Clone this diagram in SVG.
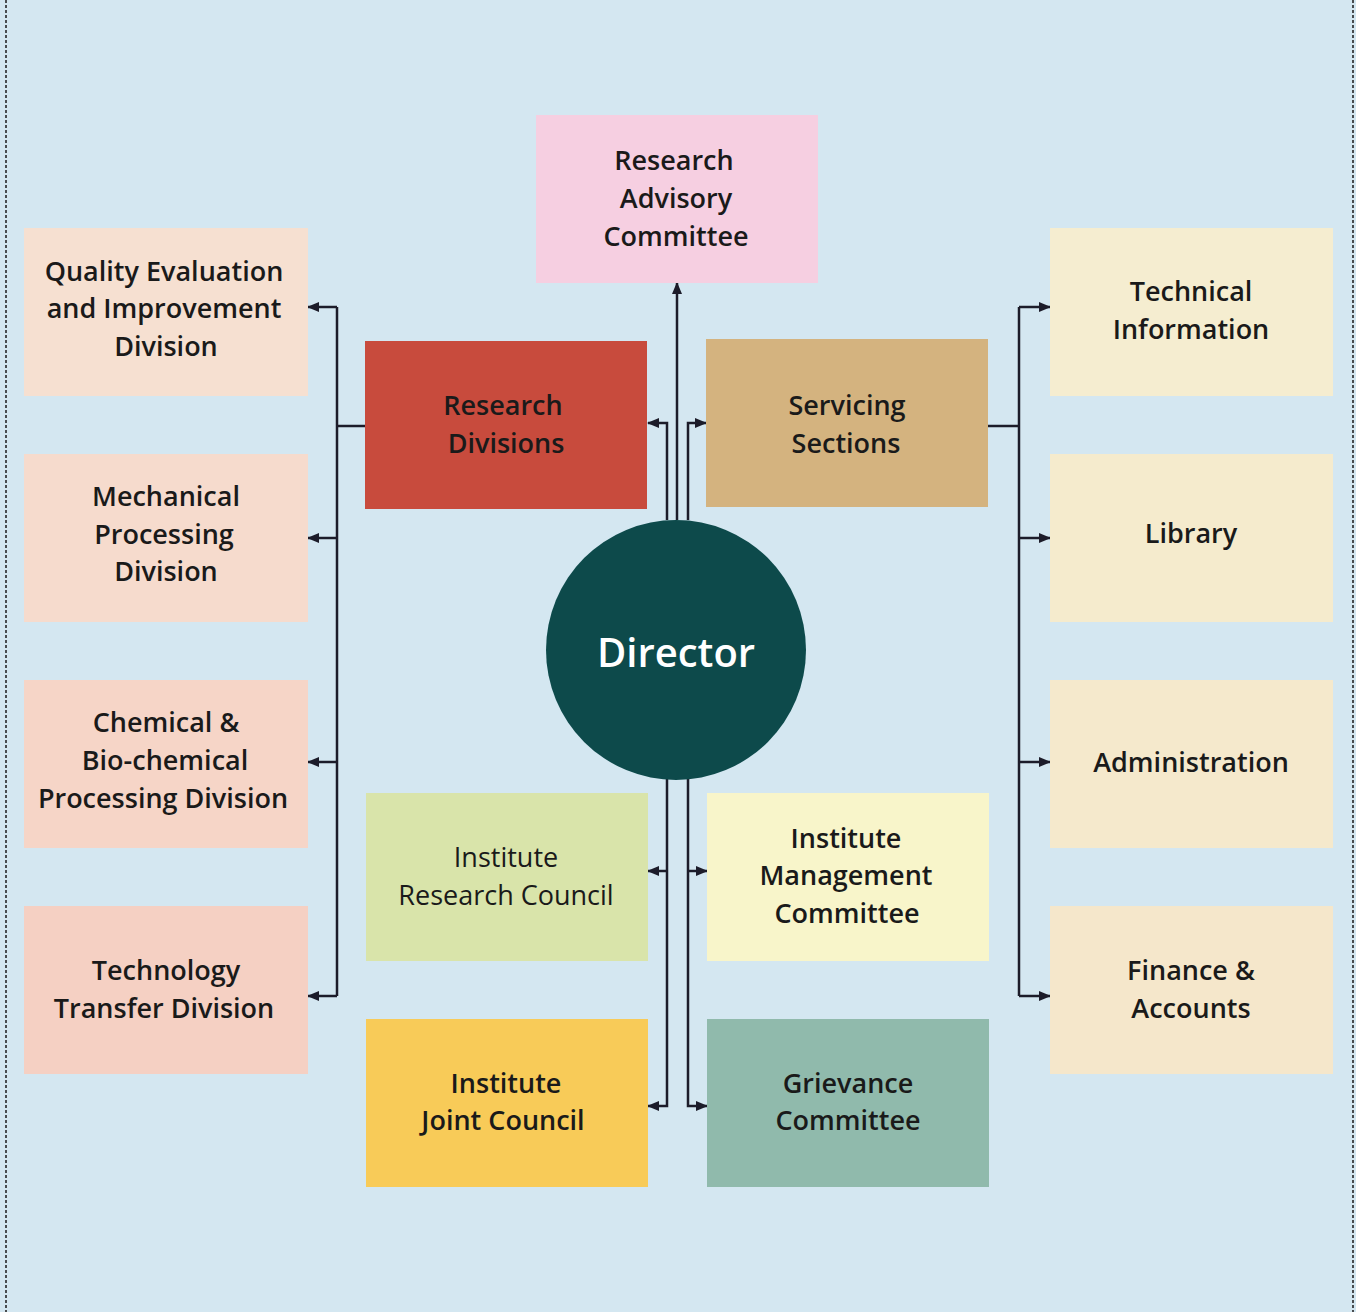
<svg xmlns="http://www.w3.org/2000/svg" width="1356" height="1312" viewBox="0 0 1356 1312">
<defs>
<marker id="ah" viewBox="0 0 12 10" refX="11" refY="5" markerWidth="12" markerHeight="10" markerUnits="userSpaceOnUse" orient="auto">
<path d="M0,0 L12,5 L0,10 z" fill="#1c1c2a"/>
</marker>
<style>
.t{font-family:"Open Sans","Liberation Sans",sans-serif;font-size:27px;font-weight:600;fill:#1a1a1a;text-anchor:middle}
.tl{font-weight:400}
.w{fill:#fff;font-size:40px}
.c{fill:none;stroke:#1c1c2a;stroke-width:2.5}
.a{marker-end:url(#ah)}
.b{stroke:#1b1b1b;stroke-width:1.5;stroke-dasharray:3 2;fill:none}
</style>
</defs>
<rect width="1356" height="1312" fill="#d4e7f1"/>
<line class="b" x1="6" y1="0" x2="6" y2="1312"/>
<line class="b" x1="1353" y1="0" x2="1353" y2="1312"/>

<g id="connectors">
<path class="c a" d="M677,520 V283"/>
<path class="c a" d="M667,520 V423 H648"/>
<path class="c a" d="M688,520 V423 H706"/>
<path class="c" d="M365,426 H337"/>
<path class="c" d="M337,307 V996"/>
<path class="c a" d="M337,307 H308"/>
<path class="c a" d="M337,538 H308"/>
<path class="c a" d="M337,762 H308"/>
<path class="c a" d="M337,996 H308"/>
<path class="c" d="M988,426 H1019"/>
<path class="c" d="M1019,307 V996"/>
<path class="c a" d="M1019,307 H1050"/>
<path class="c a" d="M1019,538 H1050"/>
<path class="c a" d="M1019,762 H1050"/>
<path class="c a" d="M1019,996 H1050"/>
<path class="c a" d="M667,778 V1106 H648"/>
<path class="c a" d="M667,871 H648"/>
<path class="c a" d="M688,778 V1106 H707"/>
<path class="c a" d="M688,871 H707"/>
</g>

<g id="rac"><rect x="536" y="115" width="282" height="168" fill="#f6cfe1"/>
<text class="t" x="674" y="170">Research</text><text class="t" x="676" y="208">Advisory</text><text class="t" x="676" y="246">Committee</text></g>

<g id="qeid"><rect x="24" y="228" width="284" height="168" fill="#f6e0d1"/>
<text class="t" x="164" y="281">Quality Evaluation</text><text class="t" x="164" y="318">and Improvement</text><text class="t" x="166" y="356">Division</text></g>
<g id="mpd"><rect x="24" y="454" width="284" height="168" fill="#f6dbcd"/>
<text class="t" x="166" y="506">Mechanical</text><text class="t" x="164" y="544">Processing</text><text class="t" x="166" y="581">Division</text></g>
<g id="cbpd"><rect x="24" y="680" width="284" height="168" fill="#f6d5c7"/>
<text class="t" x="166" y="732">Chemical &amp;</text><text class="t" x="165" y="770">Bio-chemical</text><text class="t" x="163" y="808">Processing Division</text></g>
<g id="ttd"><rect x="24" y="906" width="284" height="168" fill="#f5d0c3"/>
<text class="t" x="166" y="980">Technology</text><text class="t" x="164" y="1018">Transfer Division</text></g>

<g id="rd"><rect x="365" y="341" width="282" height="168" fill="#c84b3d"/>
<text class="t" x="503" y="415">Research</text><text class="t" x="506" y="453">Divisions</text></g>
<g id="ss"><rect x="706" y="339" width="282" height="168" fill="#d4b37f"/>
<text class="t" x="847" y="415">Servicing</text><text class="t" x="846" y="453">Sections</text></g>

<g id="ti"><rect x="1050" y="228" width="283" height="168" fill="#f5edd0"/>
<text class="t" x="1191" y="301">Technical</text><text class="t" x="1191" y="339">Information</text></g>
<g id="lib"><rect x="1050" y="454" width="283" height="168" fill="#f5ebcd"/>
<text class="t" x="1191" y="543">Library</text></g>
<g id="adm"><rect x="1050" y="680" width="283" height="168" fill="#f5e9cc"/>
<text class="t" x="1191" y="772">Administration</text></g>
<g id="fa"><rect x="1050" y="906" width="283" height="168" fill="#f5e7cb"/>
<text class="t" x="1191" y="980">Finance &amp;</text><text class="t" x="1191" y="1018">Accounts</text></g>

<g id="director"><circle cx="676" cy="650" r="130" fill="#0d4a4b"/>
<text class="t w" x="676" y="667">Director</text></g>

<g id="irc"><rect x="366" y="793" width="282" height="168" fill="#d9e4aa"/>
<text class="t tl" x="506" y="867">Institute</text><text class="t tl" x="506" y="905">Research Council</text></g>
<g id="imc"><rect x="707" y="793" width="282" height="168" fill="#f8f5ca"/>
<text class="t" x="846" y="848">Institute</text><text class="t" x="846" y="885">Management</text><text class="t" x="847" y="923">Committee</text></g>
<g id="ijc"><rect x="366" y="1019" width="282" height="168" fill="#f8cb58"/>
<text class="t" x="506" y="1093">Institute</text><text class="t" x="503" y="1130">Joint Council</text></g>
<g id="gc"><rect x="707" y="1019" width="282" height="168" fill="#90baac"/>
<text class="t" x="848" y="1093">Grievance</text><text class="t" x="848" y="1130">Committee</text></g>
</svg>
